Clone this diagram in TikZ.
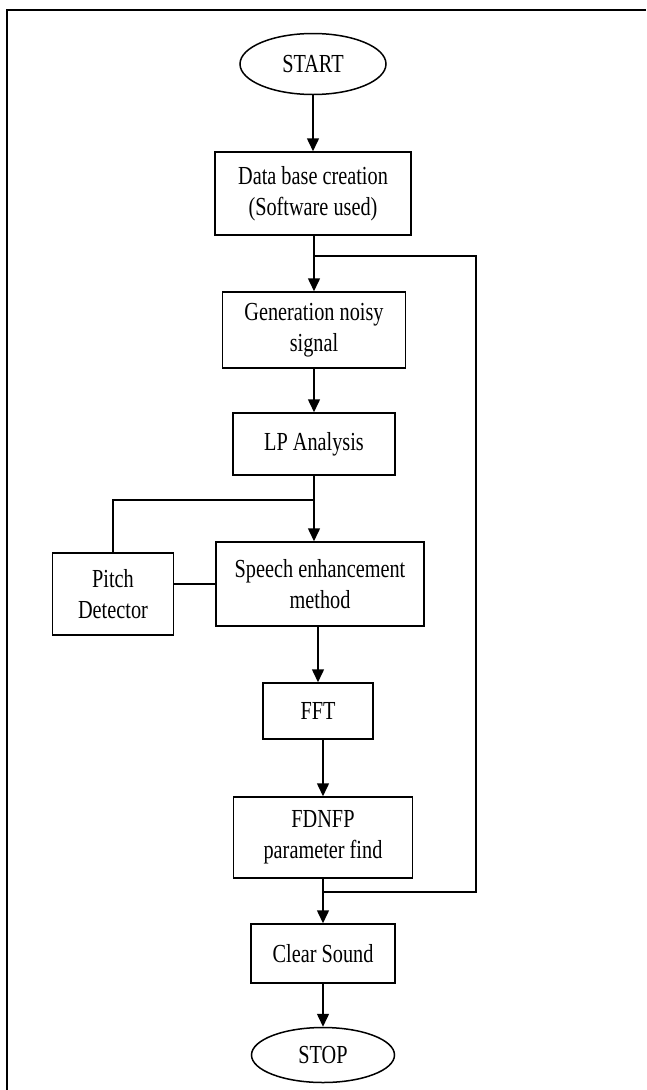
\documentclass[tikz,border=0pt]{standalone}
\usepackage{fontspec}
\setmainfont{Liberation Serif}[FakeStretch=0.78]
\usetikzlibrary{shapes.geometric,arrows.meta,positioning}

\begin{document}
\begin{tikzpicture}[x=1pt,y=-1pt,
	every node/.style={font=\fontsize{26}{31}\selectfont,align=center,inner sep=0pt},
	box/.style={draw,rectangle,line width=1.5pt},
	term/.style={draw,ellipse,line width=1.5pt},
	ln/.style={line width=1.5pt},
	arr/.style={line width=1.5pt,-{Triangle[length=13pt,width=12pt]}}]

	\useasboundingbox (0,0) rectangle (646,1090);
	\draw[line width=1.8pt] (646,10) -- (7,10) -- (7,1090);

	\node[term, minimum width=146pt, minimum height=61pt] (S) at (313,64) {START};
	\node[box, minimum width=196pt, minimum height=83pt] (DB) at (313,193.5) {Data base creation\\(Software used)};
	\node[box, minimum width=183pt, minimum height=76pt] (GN) at (314,330) {Generation noisy\\signal};
	\node[box, minimum width=162pt, minimum height=62pt] (LP) at (314,444) {LP Analysis};
	\node[box, minimum width=208pt, minimum height=84pt] (SE) at (320,584) {Speech enhancement\\method};
	\node[box, minimum width=121pt, minimum height=82pt] (PD) at (113,594) {Pitch\\Detector};
	\node[box, minimum width=110pt, minimum height=56pt] (FFT) at (318,711) {FFT};
	\node[box, minimum width=179pt, minimum height=81pt] (FD) at (323,837.5) {FDNFP\\parameter find};
	\node[box, minimum width=144pt, minimum height=59pt] (CS) at (323,953.5) {Clear Sound};
	\node[term, minimum width=143pt, minimum height=55pt] (ST) at (323,1055) {STOP};

	\coordinate (jt) at (314,256);
	\coordinate (rt) at (476,256);
	\coordinate (jp) at (314,500);
	\coordinate (jb) at (323,892);

	\draw[arr] (S) -- (DB);
	\draw[ln] (DB.south -| jt) -- (jt);
	\draw[arr] (jt) -- (GN);
	\draw[arr] (GN) -- (LP);
	\draw[ln] (LP.south -| jp) -- (jp);
	\draw[arr] (jp) -- (jp |- SE.north);
	\draw[ln] (jp) -| (PD);
	\draw[ln] (SE.west) -- (SE.west -| PD.east);
	\draw[arr] (FFT.north |- SE.south) -- (FFT);
	\draw[arr] (FFT.south -| FD.north) -- (FD);
	\draw[ln] (FD) -- (jb);
	\draw[arr] (jb) -- (CS);
	\draw[ln] (jb) -| (rt) -- (jt);
	\draw[arr] (CS) -- (ST);
	\end{tikzpicture}
\end{document}
